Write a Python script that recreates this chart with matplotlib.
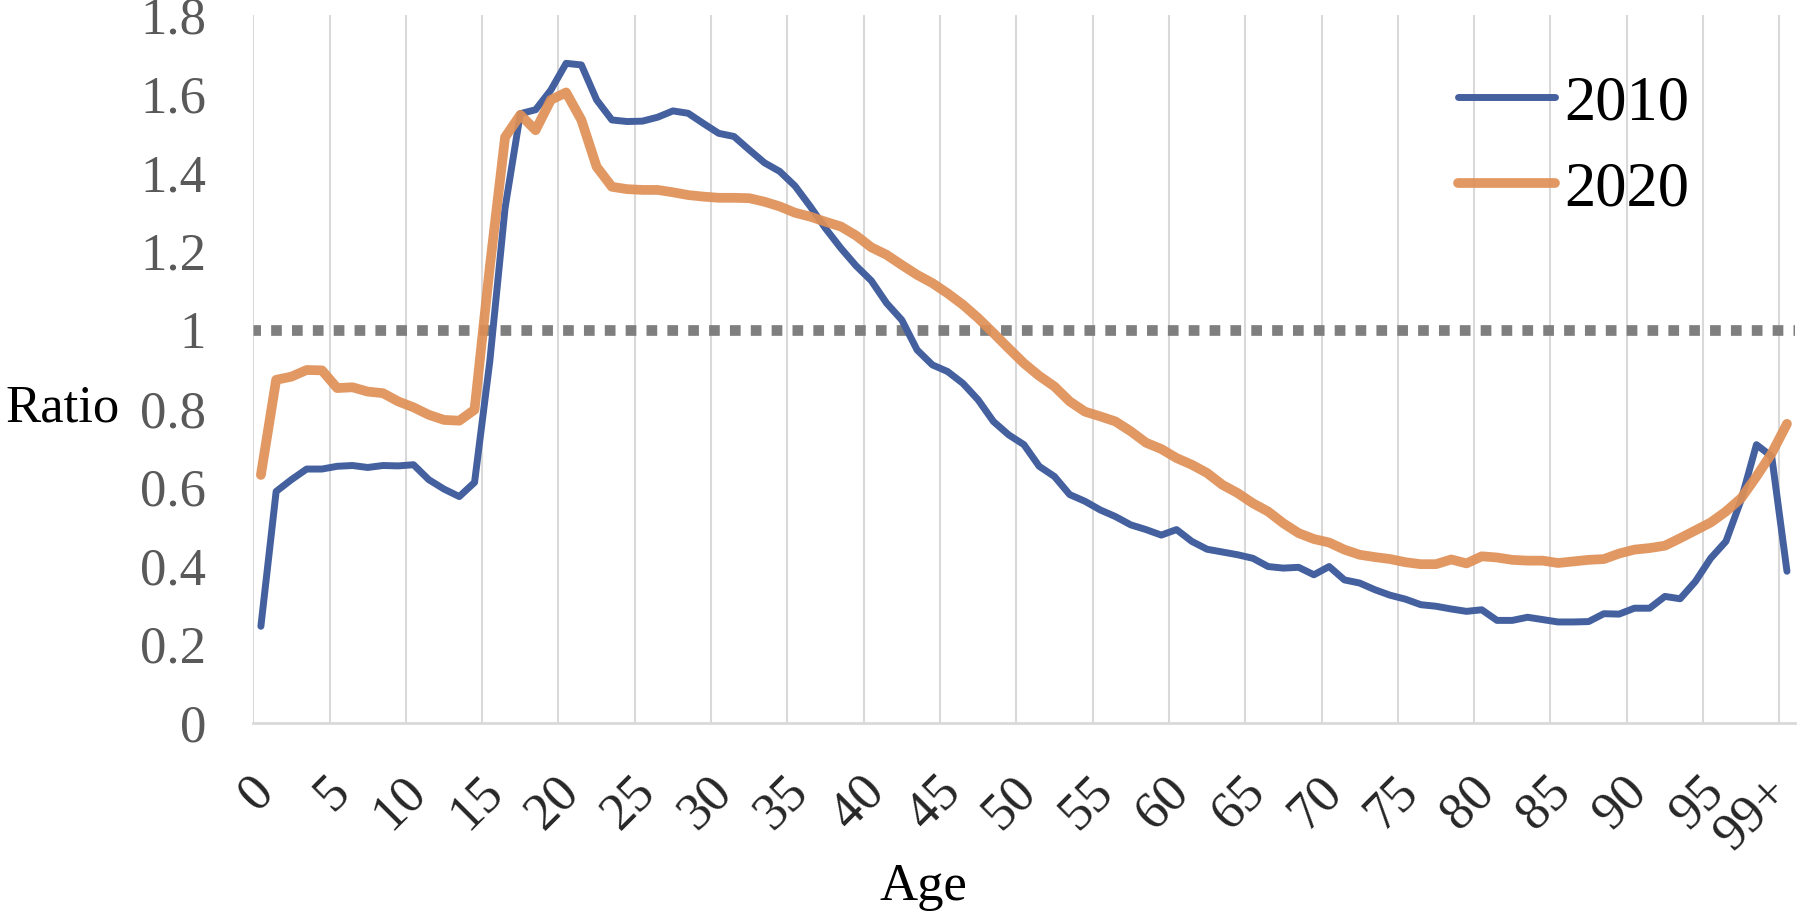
import numpy as np
import matplotlib
matplotlib.use("Agg")
import matplotlib.pyplot as plt
from matplotlib import transforms

plt.rcParams['font.family'] = ['Liberation Serif', 'DejaVu Serif']

ages = list(range(101))
tick_pos = list(range(0, 101, 5))
tick_labels = [str(a) for a in range(0, 100, 5)] + ['99+']

ratio_2010 = [0.246, 0.589, 0.619, 0.646, 0.646, 0.653, 0.655, 0.650, 0.655, 0.654,
              0.657, 0.619, 0.595, 0.576, 0.612, 0.92, 1.31, 1.55, 1.56, 1.61,
              1.678, 1.674, 1.585, 1.534, 1.530, 1.531, 1.541, 1.557, 1.551, 1.525,
              1.500, 1.492, 1.458, 1.425, 1.403, 1.366, 1.314, 1.258, 1.208, 1.163,
              1.125, 1.068, 1.025, 0.949, 0.911, 0.894, 0.864, 0.822, 0.767, 0.733,
              0.708, 0.653, 0.627, 0.581, 0.564, 0.542, 0.525, 0.504, 0.492, 0.478,
              0.492, 0.462, 0.442, 0.435, 0.428, 0.419, 0.398, 0.394, 0.396, 0.377,
              0.398, 0.364, 0.356, 0.339, 0.325, 0.315, 0.301, 0.297, 0.290, 0.284,
              0.288, 0.261, 0.261, 0.269, 0.263, 0.257, 0.257, 0.258, 0.278, 0.277,
              0.292, 0.292, 0.322, 0.316, 0.360, 0.419, 0.462, 0.568, 0.708, 0.678,
              0.386]

ratio_2020 = [0.631, 0.873, 0.881, 0.898, 0.897, 0.852, 0.854, 0.843, 0.839, 0.818,
              0.803, 0.784, 0.771, 0.769, 0.797, 1.16, 1.49, 1.547, 1.508, 1.585,
              1.604, 1.534, 1.415, 1.364, 1.358, 1.356, 1.356, 1.350, 1.343, 1.339,
              1.336, 1.336, 1.335, 1.326, 1.314, 1.298, 1.288, 1.275, 1.263, 1.240,
              1.210, 1.191, 1.165, 1.140, 1.119, 1.093, 1.064, 1.030, 0.992, 0.953,
              0.915, 0.883, 0.856, 0.818, 0.792, 0.780, 0.767, 0.742, 0.713, 0.697,
              0.674, 0.657, 0.636, 0.606, 0.585, 0.559, 0.538, 0.508, 0.483, 0.468,
              0.459, 0.441, 0.428, 0.422, 0.417, 0.409, 0.404, 0.404, 0.416, 0.406,
              0.424, 0.421, 0.415, 0.413, 0.413, 0.407, 0.411, 0.415, 0.417, 0.431,
              0.441, 0.445, 0.451, 0.470, 0.490, 0.510, 0.538, 0.572, 0.627, 0.686,
              0.761]

fig = plt.figure(figsize=(18, 9.16), dpi=100)
ax = fig.add_axes([0.1407, 0.2107, 0.9970 - 0.1407, 0.9832 - 0.2107])

# gridlines sit between categories, every 5
ax.set_xticks(np.arange(-0.5, 100, 5), minor=True)
ax.grid(True, which='minor', axis='x', color='#d9d9d9', lw=1.5)
ax.tick_params(which='minor', length=0)

ax.axhline(1.0, color='#7f7f7f', lw=7.7, linestyle=(0.3, (1, 0.95)), zorder=2)

ax.plot(ages, ratio_2010, color='#44609f', lw=5, label='2010', zorder=3,
        solid_joinstyle='round', solid_capstyle='round')
ax.plot(ages, ratio_2020, color='#df8f55', lw=7, label='2020', alpha=0.92, zorder=4,
        solid_joinstyle='round', solid_capstyle='round')

ax.set_xlim(-0.5, 100.5)
ax.set_ylim(0, 1.8)
ax.set_yticks(np.arange(0, 1.81, 0.2))
ax.set_yticklabels(['0', '0.2', '0.4', '0.6', '0.8', '1', '1.2', '1.4', '1.6', '1.8'])
ax.tick_params(axis='y', length=0, pad=34, labelsize=38, labelcolor='#595959')

ax.set_xticks(tick_pos)
ax.set_xticklabels(tick_labels, rotation=45, ha='right', va='center', rotation_mode='anchor')
ax.tick_params(axis='x', which='major', length=0, pad=44, labelsize=38, labelcolor='#262626')
xlabels = ax.get_xticklabels()
for lab in xlabels:
    dx = 5 if lab is not xlabels[-1] else -6   # keep "99+" inside the figure
    lab.set_transform(lab.get_transform() + transforms.ScaledTranslation(dx / 100, 0, fig.dpi_scale_trans))

for side in ['top', 'right', 'left']:
    ax.spines[side].set_visible(False)
ax.spines['bottom'].set_color('#d9d9d9')
ax.spines['bottom'].set_linewidth(2)

fig.text(0.003, (916 - 408) / 916, 'Ratio', fontsize=38, ha='left', va='center')
fig.text(923 / 1800, (916 - 887) / 916, 'Age', fontsize=38, ha='center', va='center')

leg = ax.legend(loc='upper right', bbox_to_anchor=(0.968, 0.995), fontsize=45, frameon=False,
                handlelength=1.55, handletextpad=0.15, labelspacing=0.45)

fig.savefig('out.png', dpi=100)
